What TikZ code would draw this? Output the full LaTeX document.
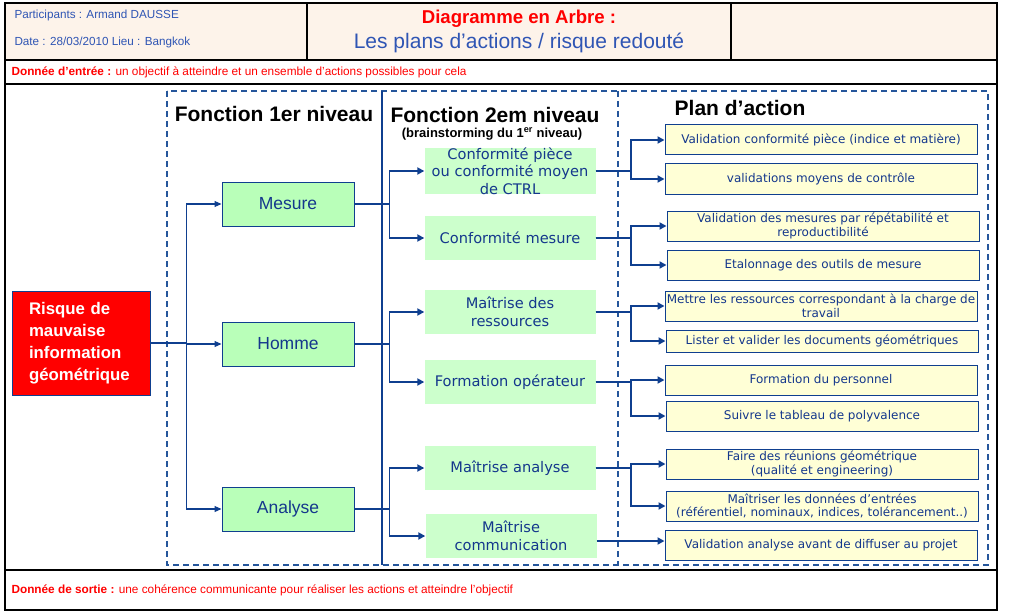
\documentclass[tikz,border=0pt]{standalone}
\usepackage{fontspec}
\setmainfont{Liberation Sans}
\newfontfamily\verd{DejaVu Sans}
\usetikzlibrary{arrows.meta, positioning, calc}
\definecolor{treeblue}{HTML}{0F3F8F}
\definecolor{frameblue}{HTML}{25569B}
\definecolor{boxtext}{HTML}{14378C}
\definecolor{hdrblue}{HTML}{2F55B4}
\definecolor{hdrfill}{HTML}{FDF3EA}
\definecolor{lvlone}{HTML}{B9FFB9}
\definecolor{lvltwo}{HTML}{CCFFCC}
\definecolor{planfill}{HTML}{FFFFD6}
\definecolor{riskred}{HTML}{FF0000}

\begin{document}
\begin{tikzpicture}[x=1pt, y=-1pt,
    risque/.style={rectangle, draw=treeblue, fill=riskred, line width=1pt, minimum width=138pt, minimum height=104pt, text width=104pt, inner xsep=17pt, align=left, text=white, font=\fontsize{16.8}{22}\selectfont\bfseries},
    niv1/.style={rectangle, draw=treeblue, fill=lvlone, line width=1pt, minimum width=132pt, minimum height=44pt, text=boxtext, font=\fontsize{17.5}{20}\selectfont},
    niv2/.style={rectangle, fill=lvltwo, minimum width=171pt, minimum height=44pt, inner sep=0pt, align=center, text=boxtext, font=\verd\fontsize{14.6}{17.5}\selectfont},
    plan/.style={rectangle, draw=treeblue, fill=planfill, line width=1pt, minimum width=312pt, minimum height=30pt, inner sep=0pt, align=center, text=boxtext, font=\verd\fontsize{12}{13.5}\selectfont},
    titre/.style={font=\fontsize{21}{24}\selectfont\bfseries},
    conn/.style={-{Triangle[length=7pt, width=6pt]}, treeblue, line width=1.1pt},
    connfort/.style={-{Triangle[length=7pt, width=7pt]}, treeblue, line width=1.8pt},
    cadre/.style={draw=black, line width=1.2pt}]

  \useasboundingbox (0,0) rectangle (1012,615);

  % Cartouche
  \fill[hdrfill] (5,3) rectangle (997,60);
  \draw[cadre] (5,3) rectangle (997,610);
  \draw[cadre] (5,60) -- (997,60);
  \draw[cadre] (5,84) -- (997,84);
  \draw[cadre] (5,570) -- (997,570);
  \draw[cadre] (307,3) -- (307,60);
  \draw[cadre] (731,3) -- (731,60);

  \node[anchor=west, text=hdrblue, font=\fontsize{11.7}{14}\selectfont] (part) at (11,15) {Participants : Armand DAUSSE};
  \node[anchor=west, text=hdrblue, font=\fontsize{11.7}{14}\selectfont] (date) at (11,42) {Date : 28/03/2010 Lieu : Bangkok};
  \node[text=riskred, font=\fontsize{18.6}{20}\selectfont\bfseries] (diag) at (519,19) {Diagramme en Arbre :};
  \node[text=hdrblue, font=\fontsize{21}{23}\selectfont] (sujet) at (519,43) {Les plans d’actions / risque redouté};
  \node[anchor=west, text=riskred, font=\fontsize{11.8}{13}\selectfont] (entree) at (8,72) {\textbf{Donnée d'entrée :} un objectif à atteindre et un ensemble d'actions possibles pour cela};
  \node[anchor=west, text=riskred, font=\fontsize{11.8}{13}\selectfont] (sortie) at (8,590) {\textbf{Donnée de sortie :} une cohérence communicante pour réaliser les actions et atteindre l'objectif};

  % Cadres des niveaux
  \draw[frameblue, line width=1.4pt, dash pattern=on 6pt off 4pt] (167,91) rectangle (988,565);
  \draw[treeblue, line width=1.4pt] (382,91) -- (382,565);
  \draw[frameblue, line width=1.4pt, dash pattern=on 6pt off 4pt] (618,91) -- (618,565);

  \node[titre] (t1) at (274,114) {Fonction 1er niveau};
  \node[titre] (t2) at (495,115) {Fonction 2em niveau};
  \node[font=\fontsize{13}{15}\selectfont\bfseries] (t2b) at (492,134) {(brainstorming du 1\textsuperscript{er} niveau)};
  \node[titre] (t3) at (740,108) {Plan d’action};

  % Risque et 1er niveau
  \node[risque] (risk) at (81,343) {Risque de\\mauvaise\\information\\géométrique};
  \node[niv1] (mes) at (288,204) {Mesure};
  \node[niv1] (hom) at (288,344) {Homme};
  \node[niv1] (ana) at (288,509) {Analyse};

  % 2em niveau
  \node[niv2] (cp) at (510,171) {Conformité pièce\\ou conformité moyen\\de CTRL};
  \node[niv2] (cm) at (510,238) {Conformité mesure};
  \node[niv2] (mr) at (510,312) {Maîtrise des\\ressources};
  \node[niv2] (fo) at (510,382) {Formation opérateur};
  \node[niv2] (ma) at (510,468) {Maîtrise analyse};
  \node[niv2] (mc) at (511,536) {Maîtrise\\communication};

  % Plan d'action
  \node[plan] (p1) at (821,140) {Validation conformité pièce (indice et matière)};
  \node[plan] (p2) at (821,179) {validations moyens de contrôle};
  \node[plan] (p3) at (823,226) {Validation des mesures par répétabilité et\\reproductibilité};
  \node[plan] (p4) at (823,265) {Etalonnage des outils de mesure};
  \node[plan] (p5) at (821,306) {Mettre les ressources correspondant à la charge de\\travail};
  \node[plan, minimum height=22pt] (p6) at (822,341) {Lister et valider les documents géométriques};
  \node[plan] (p7) at (821,380) {Formation du personnel};
  \node[plan] (p8) at (822,416) {Suivre le tableau de polyvalence};
  \node[plan] (p9) at (822,464) {Faire des réunions géométrique\\(qualité et engineering)};
  \node[plan] (p10) at (822,506) {Maîtriser les données d’entrées\\(référentiel, nominaux, indices, tolérancement..)};
  \node[plan] (p11) at (821,545) {Validation analyse avant de diffuser au projet};

  % Liaisons
  \foreach \n in {mes,hom,ana}
    \draw[conn] (risk.east) -- ++(36,0) |- (\n.west);
  \foreach \a/\b in {mes/cp, mes/cm, hom/mr, hom/fo, ana/ma, ana/mc}
    \draw[connfort] (\a.east) -- ++(35,0) |- (\b.west);
  \foreach \a/\b in {cp/p1, cp/p2, cm/p3, cm/p4, mr/p5, mr/p6, fo/p7, fo/p8, ma/p9, ma/p10}
    \draw[connfort] (\a.east) -- ++(35,0) |- (\b.west);
  \draw[connfort] ([yshift=-5pt]mc.east) -- ([yshift=-5pt]mc.east -| p11.west);
\end{tikzpicture}
\end{document}
